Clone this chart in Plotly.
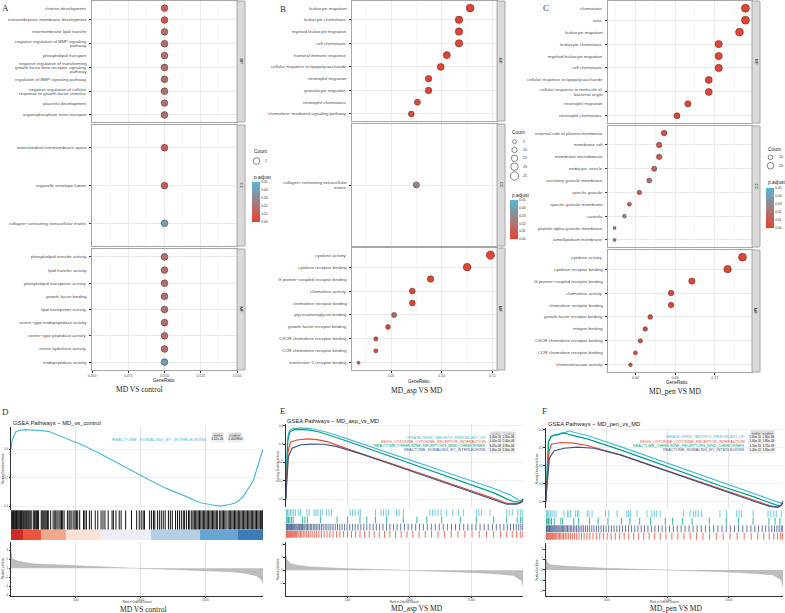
import plotly.graph_objects as go

W, H = 785, 613
SANS = "Liberation Sans, Arial, sans-serif"
SERIF = "Liberation Serif, Times New Roman, serif"

# ============================ DATA ============================
# ---- Panel A : MD VS control ----
A_BP_terms = ["chorion development", "extraembryonic membrane development", "intermembrane lipid transfer",
              "negative regulation of BMP signaling\npathway", "phospholipid transport",
              "negative regulation of transforming\ngrowth factor beta receptor signaling\npathway",
              "regulation of BMP signaling pathway",
              "negative regulation of cellular\nresponse to growth factor stimulus",
              "placenta development", "organophosphate ester transport"]
A_BP_ratio = [0.5, 0.5, 0.5, 0.5, 0.5, 0.5, 0.5, 0.5, 0.5, 0.5]
A_BP_count = [1, 1, 1, 1, 1, 1, 1, 1, 1, 1]
A_BP_padj = [0.011, 0.009, 0.019, 0.019, 0.019, 0.019, 0.019, 0.019, 0.019, 0.019]

A_CC_terms = ["mitochondrial intermembrane space", "organelle envelope lumen",
              "collagen\u2212containing extracellular matrix"]
A_CC_ratio = [0.5, 0.5, 0.5]
A_CC_count = [1, 1, 1]
A_CC_padj = [0.010, 0.010, 0.040]

A_MF_terms = ["phospholipid transfer activity", "lipid transfer activity", "phospholipid transporter activity",
              "growth factor binding", "lipid transporter activity", "serine\u2212type endopeptidase activity",
              "serine\u2212type peptidase activity", "serine hydrolase activity", "endopeptidase activity"]
A_MF_ratio = [0.5, 0.5, 0.5, 0.5, 0.5, 0.5, 0.5, 0.5, 0.5]
A_MF_count = [1, 1, 1, 1, 1, 1, 1, 1, 1]
A_MF_padj = [0.018, 0.018, 0.018, 0.018, 0.018, 0.018, 0.018, 0.018, 0.040]

# ---- Panel B : MD_asp VS MD ----
B_BP_terms = ["leukocyte migration", "leukocyte chemotaxis", "myeloid leukocyte migration", "cell chemotaxis",
              "humoral immune response", "cellular response to lipopolysaccharide", "neutrophil migration",
              "granulocyte migration", "neutrophil chemotaxis", "chemokine\u2212mediated signaling pathway"]
B_BP_ratio = [0.128, 0.117, 0.117, 0.117, 0.105, 0.099, 0.087, 0.087, 0.076, 0.070]
B_BP_count = [22, 20, 20, 20, 18, 17, 15, 15, 13, 12]
B_BP_padj = [0.0002, 0.0003, 0.0004, 0.0004, 0.001, 0.001, 0.001, 0.001, 0.002, 0.003]

B_CC_terms = ["collagen\u2212containing extracellular\nmatrix"]
B_CC_ratio = [0.075]
B_CC_count = [13]
B_CC_padj = [0.027]

B_MF_terms = ["cytokine activity", "cytokine receptor binding", "G protein\u2212coupled receptor binding",
              "chemokine activity", "chemokine receptor binding", "glycosaminoglycan binding",
              "growth factor receptor binding", "CXCR chemokine receptor binding",
              "CCR chemokine receptor binding", "interleukin\u22121 receptor binding"]
B_MF_ratio = [0.148, 0.125, 0.089, 0.071, 0.071, 0.053, 0.047, 0.035, 0.035, 0.018]
B_MF_count = [25, 21, 15, 12, 12, 9, 8, 6, 6, 3]
B_MF_padj = [0.0001, 0.0002, 0.001, 0.001, 0.001, 0.013, 0.003, 0.002, 0.002, 0.008]

# ---- Panel C : MD_pen VS MD ----
C_BP_terms = ["chemotaxis", "taxis", "leukocyte migration", "leukocyte chemotaxis", "myeloid leukocyte migration",
              "cell chemotaxis", "cellular response to lipopolysaccharide",
              "cellular response to molecule of\nbacterial origin", "neutrophil migration", "neutrophil chemotaxis"]
C_BP_ratio = [0.151, 0.151, 0.145, 0.124, 0.124, 0.124, 0.114, 0.114, 0.093, 0.082]
C_BP_count = [29, 29, 28, 24, 24, 24, 22, 22, 18, 16]
C_BP_padj = [0.0001, 0.0001, 0.0001, 0.0002, 0.0002, 0.0002, 0.0005, 0.0005, 0.001, 0.001]

C_CC_terms = ["external side of plasma membrane", "membrane raft", "membrane microdomain", "endocytic vesicle",
              "secretory granule membrane", "specific granule", "specific granule membrane", "caveola",
              "platelet alpha granule membrane", "lamellipodium membrane"]
C_CC_ratio = [0.069, 0.064, 0.064, 0.059, 0.054, 0.044, 0.034, 0.029, 0.019, 0.019]
C_CC_count = [14, 13, 13, 12, 11, 9, 7, 6, 4, 4]
C_CC_padj = [0.006, 0.008, 0.008, 0.014, 0.020, 0.007, 0.011, 0.024, 0.016, 0.022]

C_MF_terms = ["cytokine activity", "cytokine receptor binding", "G protein\u2212coupled receptor binding",
              "chemokine activity", "chemokine receptor binding", "growth factor receptor binding",
              "integrin binding", "CXCR chemokine receptor binding", "CCR chemokine receptor binding",
              "chemoattractant activity"]
C_MF_ratio = [0.148, 0.133, 0.097, 0.076, 0.076, 0.055, 0.050, 0.045, 0.040, 0.035]
C_MF_count = [28, 25, 18, 14, 14, 10, 9, 8, 7, 6]
C_MF_padj = [0.0001, 0.0002, 0.001, 0.001, 0.001, 0.002, 0.003, 0.002, 0.003, 0.004]

A_size_breaks = [1]
B_size_breaks = [5, 10, 15, 20, 25]
C_size_breaks = [10, 20]
padj_ticks = [0.00, 0.01, 0.02, 0.03, 0.04, 0.05]
padj_ticklabels = ["0.00", "0.01", "0.02", "0.03", "0.04", "0.05"]

A_xticks = [0.450, 0.475, 0.500, 0.525, 0.550]
A_xticklabels = ["0.450", "0.475", "0.500", "0.525", "0.550"]
B_xticks = [0.05, 0.10, 0.15]
B_xticklabels = ["0.05", "0.10", "0.15"]
C_xticks = [0.04, 0.08, 0.12]
C_xticklabels = ["0.04", "0.08", "0.12"]

# ---- GSEA D : MD_vs_control ----
D_set = "REACTOME_SIGNALING_BY_INTERLEUKINS"
D_pvalue = "4.62e-06"
D_padjust = "0.0009804"
D_N = 19450
D_rank = [0, 90, 350, 607, 1100, 1640, 2416, 2933, 4225, 5517, 6809, 8101, 9393, 10685, 11977, 13269,
          14561, 15336, 16111, 16886, 17402, 17919, 18436, 18700, 18953, 19211, 19450]
D_es = [0, 0.066, 0.120, 0.132, 0.138, 0.137, 0.132, 0.125, 0.078, 0.030, -0.028, -0.088, -0.153, -0.217,
        -0.276, -0.323, -0.375, -0.389, -0.401, -0.389, -0.375, -0.335, -0.264, -0.220, -0.146, -0.064, 0]
D_hits = [20, 70, 130, 190, 240, 300, 360, 420, 480, 540, 610, 680, 740, 800, 870, 950, 1020, 1100, 1180,
          1250, 1330, 1400, 1480, 1560, 1720, 1800, 1870, 1960, 2040, 2130, 2330, 2410, 2480, 2560, 2640,
          2720, 2810, 2880, 3060, 3250, 3380, 3460, 3560, 3700, 3800, 3900, 3990, 4100, 4350, 4480, 4560,
          4700, 4850, 4950, 5050, 5150, 5300, 5600, 5700, 5820, 6050, 6200, 6500, 6700, 6950, 7100, 7250,
          7500, 7800, 7900, 8100, 8350, 8500, 8850, 9300, 9700, 9900, 10050, 10200, 10300, 10700, 10850,
          11000, 11100, 11300, 11450, 11600, 11750, 11900, 12150, 12300, 12450, 12700, 12850, 13000, 13150,
          13300, 13400, 13550, 13700, 13800, 13950, 14050, 14150, 14250, 14350, 14450, 14550, 14650, 14750,
          14850, 14950, 15050, 15150, 15250, 15350, 15450, 15550, 15650, 15750, 15850, 15950, 16100, 16200,
          16300, 16400, 16500, 16600, 16750, 16850, 16950, 17050, 17150, 17250, 17350, 17450, 17550, 17650,
          17750, 17850, 17950, 18050, 18150, 18250, 18350, 18450, 18550, 18650, 18750, 18850, 18950, 19050,
          19150, 19250, 19350, 19420]
D_block_edges = [0, 917, 2287, 4225, 6938, 10814, 14561, 17532, 19450]
D_block_metric = [2.6, 1.7, 0.9, 0.3, -0.1, -0.5, -1.0, -1.6]
D_metric_rank = [0, 30, 90, 300, 607, 1640, 4225, 6809, 9393, 11977, 14561, 17145, 18178, 18953, 19340, 19450]
D_metric_val = [3.7, 2.9, 2.2, 1.8, 1.5, 0.96, 0.59, 0.30, 0.0, -0.22, -0.44, -0.81, -1.19, -1.7, -2.6, -3.4]

# ---- GSEA E : MD_asp_vs_MD ----
GSEA_sets = ["HINATA_NFKB_TARGETS_FIBROBLAST_UP", "KEGG_CYTOKINE_CYTOKINE_RECEPTOR_INTERACTION",
             "REACTOME_CHEMOKINE_RECEPTORS_BIND_CHEMOKINES", "REACTOME_SIGNALING_BY_INTERLEUKINS"]
E_pvalue = ["1.00e-10", "1.00e-10", "6.47e-08", "1.00e-10"]
E_padjust = ["2.00e-08", "2.00e-08", "4.95e-06", "2.00e-08"]
E_N = 19192
E_cyan_rank = [0, 81, 161, 240, 323, 450, 645, 900, 1183, 1450, 1720, 2258, 3333, 4677, 6021, 8709, 11397,
               14085, 16773, 18117, 18655, 18924, 19192]
E_cyan_es = [0, 0.205, 0.331, 0.360, 0.376, 0.380, 0.386, 0.383, 0.389, 0.385, 0.387, 0.382, 0.364, 0.335,
             0.304, 0.244, 0.183, 0.121, 0.060, 0.024, 0.002, -0.009, 0]
E_red_rank = [0, 81, 188, 376, 650, 914, 1720, 2527, 3333, 4677, 6021, 8709, 11397, 14085, 16773, 17849,
              18655, 19058, 19192]
E_red_es = [0, 0.150, 0.259, 0.310, 0.318, 0.322, 0.328, 0.324, 0.313, 0.281, 0.250, 0.190, 0.129, 0.067,
            0.005, -0.022, -0.024, -0.016, 0]
E_green_rank = [0, 81, 161, 323, 645, 1183, 1989, 2796, 3333, 4677, 6021, 8709, 11397, 14085, 16773, 17849,
                18386, 18924, 19192]
E_green_es = [0, 0.186, 0.313, 0.364, 0.378, 0.380, 0.376, 0.364, 0.353, 0.322, 0.291, 0.228, 0.165, 0.101,
              0.036, 0.002, -0.013, -0.016, 0]
E_blue_rank = [0, 81, 215, 511, 1183, 1989, 3064, 4140, 6021, 8709, 11397, 14085, 16773, 17849, 18655,
               19058, 19192]
E_blue_es = [0, 0.114, 0.232, 0.277, 0.295, 0.300, 0.299, 0.286, 0.248, 0.186, 0.123, 0.060, -0.004, -0.027,
             -0.027, -0.016, 0]
E_hits_cyan = [60, 150, 260, 380, 500, 640, 780, 1050, 1200, 1720, 1900, 2300, 2450, 2600, 2800, 2950, 3300,
               3500, 3700, 5200, 5400, 5600, 5900, 6050, 7250, 7700, 7900, 8100, 8300, 8950, 9150, 9500,
               11650, 11850, 12050, 12300, 12550, 13000, 13500, 13950, 14350, 15400, 15600, 15800, 16500,
               17850, 18050, 18300, 18750, 18950, 19100]
E_hits_green = [40, 120, 220, 330, 450, 600, 1350, 1550, 1750, 2800, 4150, 5000, 6000, 6550, 7250, 8150,
                9500, 10600, 11400, 12600, 14100, 15400, 16800, 17850, 18700, 18950, 19100]
E_hits_blue = [30, 85, 140, 200, 265, 330, 395, 470, 540, 610, 690, 760, 840, 930, 1010, 1100, 1180, 1270,
               1360, 1460, 1550, 1660, 1760, 1870, 1990, 2100, 2230, 2350, 2470, 2600, 2740, 2880, 3020,
               3180, 3330, 3490, 3650, 3820, 4000, 4180, 4370, 4560, 4760, 4960, 5170, 5390, 5610, 5840,
               6070, 6310, 6550, 6800, 7060, 7320, 7590, 7860, 8140, 8420, 8710, 9000, 9290, 9590, 9890,
               10190, 10500, 10810, 11120, 11440, 11760, 12080, 12400, 12730, 13060, 13390, 13720, 14050,
               14380, 14710, 15040, 15370, 15700, 16030, 16360, 16690, 17010, 17320, 17620, 17900, 18160,
               18400, 18620, 18820, 19000, 19150]
E_hits_red = [25, 75, 130, 190, 250, 320, 390, 460, 540, 620, 700, 790, 880, 980, 1080, 1190, 1300, 1420,
              1550, 1690, 1830, 1980, 2140, 2310, 2490, 2680, 2880, 3100, 3330, 3570, 3830, 4100, 4380,
              4680, 4990, 5310, 5650, 6000, 6370, 6750, 7150, 7560, 7980, 8420, 8870, 9330, 9800, 10280,
              10770, 11270, 11780, 12300, 12830, 13370, 13920, 14480, 15050, 15630, 16220, 16800, 17350,
              17850, 18300, 18650, 18950, 19150]
E_metric_rank = [0, 40, 108, 376, 1000, 1990, 4677, 8709, 11397, 14085, 16773, 18386, 19058, 19192]
E_metric_val = [2.4, 2.0, 1.6, 1.03, 0.75, 0.5, 0.26, 0.05, -0.10, -0.26, -0.53, -0.80, -1.6, -2.6]

# ---- GSEA F : MD_pen_vs_MD ----
F_pvalue = ["1.00e-10", "1.00e-10", "1.10e-10", "1.00e-10"]
F_padjust = ["1.80e-09", "1.80e-09", "1.72e-09", "1.80e-09"]
F_N = 19448
F_cyan_rank = [0, 136, 218, 408, 680, 950, 1224, 1600, 1904, 2312, 3400, 6120, 8840, 11560, 14280, 17000,
               18360, 18904, 19312, 19448]
F_cyan_es = [0, 0.223, 0.335, 0.363, 0.372, 0.368, 0.382, 0.386, 0.395, 0.387, 0.369, 0.307, 0.242, 0.177,
             0.112, 0.050, 0.015, 0.004, -0.009, 0]
F_red_rank = [0, 136, 272, 462, 800, 1224, 2312, 3400, 6120, 8840, 11560, 14280, 17000, 18360, 19040, 19312,
              19448]
F_red_es = [0, 0.168, 0.279, 0.320, 0.326, 0.330, 0.326, 0.313, 0.261, 0.199, 0.136, 0.071, 0.009, -0.022,
            -0.032, -0.019, 0]
F_green_rank = [0, 136, 245, 462, 952, 1632, 2040, 3400, 6120, 8840, 11560, 14280, 17000, 18360, 19040,
                19312, 19448]
F_green_es = [0, 0.205, 0.335, 0.363, 0.376, 0.382, 0.372, 0.350, 0.289, 0.223, 0.156, 0.089, 0.028,
              -0.004, -0.022, -0.019, 0]
F_blue_rank = [0, 136, 299, 680, 1496, 2584, 3944, 6120, 8840, 11560, 14280, 17000, 18360, 19040, 19312,
               19448]
F_blue_es = [0, 0.130, 0.242, 0.283, 0.298, 0.304, 0.298, 0.261, 0.196, 0.130, 0.065, 0.004, -0.026,
             -0.030, -0.019, 0]
F_hits_cyan = [60, 150, 260, 380, 520, 680, 850, 1500, 1780, 1900, 2040, 2450, 2600, 2720, 3400, 3550,
               3800, 4900, 5170, 5850, 6650, 6800, 6950, 7480, 8300, 8700, 8900, 9100, 9380, 11290, 11830,
               12100, 12300, 12500, 12780, 14280, 14820, 15650, 15850, 16050, 17000, 18220, 18450, 18700,
               18900, 19310]
F_hits_green = [50, 130, 230, 350, 480, 700, 1250, 1400, 2300, 2700, 3600, 4300, 5100, 6200, 6900, 7700,
                8600, 9800, 10400, 11200, 12000, 13400, 14800, 15800, 17000, 18300, 18800, 19200]
F_hits_blue = [20, 70, 125, 185, 250, 315, 380, 450, 525, 600, 675, 755, 835, 920, 1005, 1090, 1180, 1275,
               1370, 1470, 1570, 1680, 1790, 1905, 2020, 2140, 2270, 2400, 2530, 2670, 2810, 2960, 3110,
               3270, 3430, 3600, 3780, 3960, 4150, 4340, 4540, 4740, 4950, 5160, 5380, 5600, 5830, 6060,
               6300, 6540, 6790, 7040, 7300, 7560, 7830, 8100, 8380, 8660, 8950, 9240, 9540, 9840, 10150,
               10460, 10780, 11100, 11420, 11750, 12080, 12410, 12750, 13090, 13430, 13770, 14110, 14450,
               14790, 15130, 15470, 15810, 16150, 16490, 16820, 17140, 17450, 17750, 18030, 18290, 18530,
               18750, 18950, 19130, 19300, 19420]
F_hits_red = [30, 85, 140, 200, 265, 335, 410, 485, 565, 650, 735, 825, 920, 1020, 1125, 1235, 1350, 1470,
              1600, 1740, 1880, 2030, 2190, 2360, 2540, 2730, 2930, 3150, 3380, 3620, 3880, 4150, 4430,
              4730, 5040, 5360, 5700, 6060, 6430, 6810, 7210, 7620, 8040, 8480, 8930, 9390, 9860, 10340,
              10830, 11330, 11840, 12360, 12890, 13430, 13980, 14540, 15110, 15690, 16270, 16840, 17380,
              17880, 18320, 18700, 19000, 19250, 19400]
F_metric_rank = [0, 50, 136, 408, 1000, 2040, 4760, 8840, 11560, 14280, 17000, 18632, 19312, 19448]
F_metric_val = [2.2, 1.8, 1.4, 0.96, 0.8, 0.64, 0.32, 0.06, -0.13, -0.32, -0.64, -0.96, -1.9, -3.2]

# ============================ STYLE ============================
RED, BLUE_C = "#E8412F", "#4FB8D6"
PADJ_SCALE = [[0, RED], [0.5, "#A27E80"], [1, BLUE_C]]
NPG = {"cyan": "#4DBBD5", "red": "#E64B35", "green": "#00A087", "blue": "#3C5488"}
HEAT_SCALE = [[0, "#2A70B2"], [0.174, "#68A5D3"], [0.283, "#B3D0E6"], [0.37, "#ECEDF7"],
              [0.457, "#FBE1D6"], [0.587, "#F4A68A"], [0.739, "#EE5B3C"], [1, "#C92222"]]
LAB_FS = 4.4
LH = 4.3
BORDER = "#A6A6A6"

fig = go.Figure()
LAY = {}
ANN = []
SHP = []
NAX = [0]


def px(x):
    return x / W


def py(y):
    return 1 - y / H


def axes(x0, x1, y0, y1, xcfg, ycfg):
    NAX[0] += 1
    i = NAX[0]
    s = "" if i == 1 else str(i)
    LAY["xaxis" + s] = dict(domain=[px(x0), px(x1)], anchor="y" + s, zeroline=False, fixedrange=True, **xcfg)
    LAY["yaxis" + s] = dict(domain=[py(y1), py(y0)], anchor="x" + s, zeroline=False, fixedrange=True, **ycfg)
    return "x" + s, "y" + s


def text(x, y, s, size, color="#1A1A1A", family=SANS, xanchor="center", yanchor="middle", angle=0, **kw):
    ANN.append(dict(x=px(x), y=py(y), xref="paper", yref="paper", text=s, showarrow=False,
                    xanchor=xanchor, yanchor=yanchor, textangle=angle,
                    font=dict(size=size, color=color, family=family), **kw))


def size_scale(counts, cmin, cmax, dmin, dmax):
    if cmax == cmin:
        return [(dmin + dmax) / 2 for _ in counts]
    return [dmin + (dmax - dmin) * (c ** 0.5 - cmin ** 0.5) / (cmax ** 0.5 - cmin ** 0.5) for c in counts]


def dot_facet(x0, x1, y0, y1, strip_x1, label, terms, ratio, sizes, padj, caxis, xr, xt, xtl, xminor, show_x):
    xcfg = dict(range=xr, tickvals=xt, ticktext=xtl, showticklabels=show_x,
                ticks="outside" if show_x else "", ticklen=1.5, tickwidth=0.6, tickcolor="#333333",
                tickfont=dict(size=3.5, color="#4D4D4D", family=SANS),
                showgrid=True, gridcolor="#EBEBEB", gridwidth=0.6,
                minor=dict(tickvals=xminor, showgrid=True, gridcolor="#F5F5F5", gridwidth=0.4),
                showline=True, mirror=True, linecolor=BORDER, linewidth=1)
    ycfg = dict(type="category", categoryorder="array", categoryarray=terms[::-1],
                range=[-0.6, len(terms) - 0.4], showticklabels=False, ticks="outside", ticklen=2,
                tickwidth=0.6, tickcolor="#333333", showgrid=True, gridcolor="#EBEBEB", gridwidth=0.6,
                showline=True, mirror=True, linecolor=BORDER, linewidth=1)
    xn, yn = axes(x0, x1, y0, y1, xcfg, ycfg)
    fig.add_trace(go.Scatter(x=ratio, y=terms, mode="markers", xaxis=xn, yaxis=yn, hoverinfo="skip",
                             showlegend=False,
                             marker=dict(size=sizes, color=padj, coloraxis=caxis, opacity=1,
                                         line=dict(color="#333333", width=0.5))))
    for t in terms:
        lines = t.split("\n")
        n = len(lines)
        for i, ln in enumerate(lines):
            ANN.append(dict(x=0, xref=xn + " domain", y=t, yref=yn, xanchor="right", yanchor="middle",
                            xshift=-3.2, yshift=((n - 1) / 2 - i) * LH, text=ln, showarrow=False,
                            font=dict(size=LAB_FS, color="#4D4D4D", family=SANS)))
    SHP.append(dict(type="rect", xref="paper", yref="paper", x0=px(x1), x1=px(strip_x1), y0=py(y1), y1=py(y0),
                    fillcolor="#D9D9D9", line=dict(color=BORDER, width=1), layer="above"))
    text((x1 + strip_x1) / 2, (y0 + y1) / 2, label, 4.2, angle=90)


def dot_panel(x0, x1, strip_x1, boxes, facets, caxis, xr, xt, xtl, xminor, dmin, dmax):
    allc = [c for f in facets for c in f[2]]
    cmin, cmax = min(allc), max(allc)
    for k, ((y0, y1), (lab, terms, counts, ratio, padj)) in enumerate(zip(boxes, facets)):
        dot_facet(x0, x1, y0, y1, strip_x1, lab, terms, ratio, size_scale(counts, cmin, cmax, dmin, dmax),
                  padj, caxis, xr, xt, xtl, xminor, k == 2)
    return cmin, cmax


def size_legend(x, y_title, ys, breaks, cmin, cmax, dmin, dmax):
    text(x, y_title, "Count", 4.8, xanchor="left")
    ds = size_scale(breaks, cmin, cmax, dmin, dmax)
    cx = x + 4.5
    for b, d, yy in zip(breaks, ds, ys):
        SHP.append(dict(type="circle", xref="paper", yref="paper", xsizemode="pixel", ysizemode="pixel",
                        xanchor=px(cx), yanchor=py(yy), x0=-d / 2, x1=d / 2, y0=-d / 2, y1=d / 2,
                        line=dict(color="#333333", width=0.6), fillcolor="rgba(0,0,0,0)"))
        text(cx + 6, yy, str(b), 3.6, xanchor="left", color="#333333")


def colorbar(x, y_title, y0, y1):
    text(x, y_title, "p.adjust", 4.8, xanchor="left")
    return dict(cmin=0, cmax=0.05, colorscale=PADJ_SCALE,
                colorbar=dict(x=px(x), xanchor="left", y=py(y0), yanchor="top", len=y1 - y0, lenmode="pixels",
                              thickness=7.5, xpad=0, ypad=0, outlinewidth=0, ticks="",
                              tickvals=padj_ticks, ticktext=padj_ticklabels,
                              tickfont=dict(size=3.3, color="#333333", family=SANS)))


# ---------------- Dot plots ----------------
A_boxes = [(1, 122), (125, 246), (249, 370)]
A_fac = [("BP", A_BP_terms, A_BP_count, A_BP_ratio, A_BP_padj),
         ("CC", A_CC_terms, A_CC_count, A_CC_ratio, A_CC_padj),
         ("MF", A_MF_terms, A_MF_count, A_MF_ratio, A_MF_padj)]
acmin, acmax = dot_panel(92, 237, 245, A_boxes, A_fac, "coloraxis", [0.45, 0.55], A_xticks, A_xticklabels,
                         [0.4625, 0.4875, 0.5125, 0.5375], 6.7, 6.7)

B_boxes = [(1, 121), (124, 246), (248, 370)]
B_fac = [("BP", B_BP_terms, B_BP_count, B_BP_ratio, B_BP_padj),
         ("CC", B_CC_terms, B_CC_count, B_CC_ratio, B_CC_padj),
         ("MF", B_MF_terms, B_MF_count, B_MF_ratio, B_MF_padj)]
bcmin, bcmax = dot_panel(352, 497, 505, B_boxes, B_fac, "coloraxis2", [0.0115, 0.1545], B_xticks,
                         B_xticklabels, [0.025, 0.075, 0.125], 3.0, 8.3)

C_boxes = [(1, 123), (126, 247), (250, 372)]
C_fac = [("BP", C_BP_terms, C_BP_count, C_BP_ratio, C_BP_padj),
         ("CC", C_CC_terms, C_CC_count, C_CC_ratio, C_CC_padj),
         ("MF", C_MF_terms, C_MF_count, C_MF_ratio, C_MF_padj)]
ccmin, ccmax = dot_panel(608, 752, 760, C_boxes, C_fac, "coloraxis3", [0.0124, 0.1576], C_xticks,
                         C_xticklabels, [0.02, 0.06, 0.10, 0.14], 3.0, 8.0)

# legends
size_legend(252, 152, [161], A_size_breaks, acmin, acmax, 6.7, 6.7)
CA1 = colorbar(252, 178, 182, 222)
size_legend(510, 133, [141.7, 150, 158.3, 166.7, 176], B_size_breaks, bcmin, bcmax, 3.0, 8.3)
CA2 = colorbar(510, 195, 200, 239)
size_legend(766, 149, [157.3, 165.7], C_size_breaks, ccmin, ccmax, 3.0, 8.0)
CA3 = colorbar(766, 183, 187.5, 227)

for xc, gy in ((164, 380.8), (419, 381.2), (677, 382.6)):
    text(xc, gy, "GeneRatio", 4.5, color="#1A1A1A")
text(139, 389.8, "MD VS control", 7.5, family=SERIF, color="#222222")
text(417, 390.3, "MD_asp VS MD", 7.5, family=SERIF, color="#222222")
text(675, 391, "MD_pen VS MD", 7.5, family=SERIF, color="#222222")
text(5.5, 8, "A", 9, family=SERIF, color="#333333")
text(283, 9, "B", 9, family=SERIF, color="#333333")
text(546, 8, "C", 9, family=SERIF, color="#333333")


# ---------------- GSEA ----------------
def gsea_panel(x0, x1, top, bar, bot, N, top_range, top_ticks, top_labels, curves, hit_rows,
               m_rank, m_val, bot_range, bot_ticks, heat=None, bar_width=0.8):
    common_x = dict(range=[0, N], tickvals=[5000, 10000, 15000])
    # top: running enrichment score
    xn, yn = axes(x0, x1, top[0], top[1],
                  dict(common_x, showticklabels=False, ticks="", showgrid=True, gridcolor="#E3E3E3",
                       gridwidth=0.6, showline=False),
                  dict(range=top_range, tickvals=top_ticks, ticktext=top_labels, ticks="outside", ticklen=1.5,
                       tickwidth=0.5, tickcolor="#333333", tickfont=dict(size=2.8, color="#4D4D4D", family=SANS),
                       showgrid=True, gridcolor="#F0F0F0", gridwidth=0.5, showline=True, linecolor="#333333",
                       linewidth=0.6))
    for r, e, c in curves:
        fig.add_trace(go.Scatter(x=r, y=e, mode="lines", line=dict(color=c, width=1.2), xaxis=xn, yaxis=yn,
                                 hoverinfo="skip", showlegend=False))
    # barcode rows
    rowspan = 2 if heat is not None else 1
    yr = [0, len(hit_rows) * rowspan + (1 if heat is not None else 0)]
    xn2, yn2 = axes(x0, x1, bar[0], bar[1],
                    dict(common_x, showticklabels=False, ticks="", showgrid=False, showline=False),
                    dict(range=yr, showticklabels=False, ticks="", showgrid=False, showline=False))
    base = 1 if heat is not None else 0
    for k, (hits, c) in enumerate(hit_rows):
        lo = base + (len(hit_rows) - 1 - k) * rowspan
        xs, ys = [], []
        for h in hits:
            xs += [h, h, None]
            ys += [lo + 0.04, lo + rowspan - 0.04, None]
        fig.add_trace(go.Scatter(x=xs, y=ys, mode="lines", line=dict(color=c, width=bar_width), xaxis=xn2,
                                 yaxis=yn2, hoverinfo="skip", showlegend=False))
    if heat is not None:
        edges, vals = heat
        fig.add_trace(go.Heatmap(z=[vals], x=edges, y=[0, 1], colorscale=HEAT_SCALE, zmin=-1.8, zmax=2.8,
                                 showscale=False, xaxis=xn2, yaxis=yn2, hoverinfo="skip"))
    # bottom: ranked list metric
    xn3, yn3 = axes(x0, x1, bot[0], bot[1],
                    dict(common_x, ticktext=["5000", "10000", "15000"], showticklabels=True, ticks="outside",
                         ticklen=1.2, tickwidth=0.5, tickcolor="#333333",
                         tickfont=dict(size=2.6, color="#4D4D4D", family=SANS), showgrid=True,
                         gridcolor="#E3E3E3", gridwidth=0.6, showline=True, linecolor="#333333", linewidth=0.6),
                    dict(range=bot_range, tickvals=bot_ticks, ticks="outside", ticklen=1.5, tickwidth=0.5,
                         tickcolor="#333333", tickfont=dict(size=2.8, color="#4D4D4D", family=SANS),
                         showgrid=False, showline=True, linecolor="#333333", linewidth=0.6))
    fig.add_trace(go.Scatter(x=m_rank, y=m_val, mode="lines", fill="tozeroy", fillcolor="#BDBDBD",
                             line=dict(color="#A8A8A8", width=0.5), xaxis=xn3, yaxis=yn3, hoverinfo="skip",
                             showlegend=False))
    text((x0 + x1) / 2, 601.8, "Rank in Ordered Dataset", 2.6, color="#333333")
    text(x0 - 8.5, (top[0] + top[1]) / 2, "Running Enrichment Score", 2.6, angle=-90, color="#333333")
    text(x0 - 8.5, (bot[0] + bot[1]) / 2, "Ranked List Metric", 2.6, angle=-90, color="#333333")


def pval_table(x_text, x_p, x_pa, y_head, ys, names, colors, pv, pa, fs):
    text(x_p, y_head, "pvalue", 3.0, bgcolor="#D9D9D9", color="#1A1A1A", borderpad=0.6)
    text(x_pa, y_head, "p.adjust", 3.0, bgcolor="#D9D9D9", color="#1A1A1A", borderpad=0.6)
    for nm, c, p1, p2, yy in zip(names, colors, pv, pa, ys):
        text(x_text, yy, nm, fs, color=c, xanchor="right")
        text(x_p, yy, p1, 3.0, color="#1A1A1A", bgcolor="#EFEFEF", borderpad=0.4)
        text(x_pa, yy, p2, 3.0, color="#1A1A1A", bgcolor="#EFEFEF", borderpad=0.4)


# D
gsea_panel(11, 263, (427, 510), (510, 540), (541.7, 595.5), D_N, [-0.428, 0.157], [-0.4, -0.2, 0.0],
           ["\u22120.4", "\u22120.2", "0.0"], [(D_rank, D_es, NPG["cyan"])], [(D_hits, "#111111")],
           D_metric_rank, D_metric_val, [-6.1, 5.91], [-6, -4, -2, 0, 2, 4],
           heat=(D_block_edges, D_block_metric), bar_width=1.0)
text(11, 423, "GSEA Pathways \u2212 MD_vs_control", 5.8, xanchor="left")
pval_table(208, 217.5, 235, 435, [439.5], [D_set], [NPG["cyan"]], [D_pvalue], [D_padjust], 4.4)
text(5, 412, "D", 9, family=SERIF, color="#333333")
text(143, 609, "MD VS control", 7.5, family=SERIF, color="#222222")

# E
set_colors = [NPG["cyan"], NPG["red"], NPG["green"], NPG["blue"]]
gsea_panel(285.7, 523.3, (424, 507), (509, 538), (541.7, 595.5), E_N, [-0.042, 0.409],
           [0.0, 0.1, 0.2, 0.3, 0.4], ["0.0", "0.1", "0.2", "0.3", "0.4"],
           [(E_cyan_rank, E_cyan_es, NPG["cyan"]), (E_green_rank, E_green_es, NPG["green"]),
            (E_red_rank, E_red_es, NPG["red"]), (E_blue_rank, E_blue_es, NPG["blue"])],
           [(E_hits_cyan, NPG["cyan"]), (E_hits_green, NPG["green"]), (E_hits_blue, NPG["blue"]),
            (E_hits_red, NPG["red"])],
           E_metric_rank, E_metric_val, [-3.95, 4.46], [-2, 0, 2, 4])
text(285, 421, "GSEA Pathways \u2212 MD_asp_vs_MD", 5.8, xanchor="left")
pval_table(488, 495.7, 508.5, 434, [437.8, 441.9, 446.0, 450.2], GSEA_sets, set_colors, E_pvalue, E_padjust, 3.8)
text(283, 411, "E", 9, family=SERIF, color="#333333")
text(417, 608.5, "MD_asp VS MD", 7.5, family=SERIF, color="#222222")

# F
gsea_panel(545.7, 783, (428.3, 508), (510, 540), (543.3, 595.5), F_N, [-0.035, 0.409],
           [0.0, 0.1, 0.2, 0.3, 0.4], ["0.0", "0.1", "0.2", "0.3", "0.4"],
           [(F_cyan_rank, F_cyan_es, NPG["cyan"]), (F_green_rank, F_green_es, NPG["green"]),
            (F_red_rank, F_red_es, NPG["red"]), (F_blue_rank, F_blue_es, NPG["blue"])],
           [(F_hits_cyan, NPG["cyan"]), (F_hits_green, NPG["green"]), (F_hits_blue, NPG["blue"]),
            (F_hits_red, NPG["red"])],
           F_metric_rank, F_metric_val, [-4.9, 5.1], [-4, -2, 0, 2, 4])
text(545.7, 424, "GSEA Pathways \u2212 MD_pen_vs_MD", 5.8, xanchor="left")
pval_table(746.7, 755.7, 768, 433.7, [437.4, 441.7, 446.0, 450.1], GSEA_sets, set_colors, F_pvalue, F_padjust, 3.8)
text(544, 411, "F", 9, family=SERIF, color="#333333")
text(676, 608.5, "MD_pen VS MD", 7.5, family=SERIF, color="#222222")

fig.update_layout(width=W, height=H, margin=dict(l=0, r=0, t=0, b=0), template="none",
                  paper_bgcolor="white", plot_bgcolor="white", showlegend=False, hovermode=False,
                  font=dict(family=SANS), annotations=ANN, shapes=SHP,
                  coloraxis=CA1, coloraxis2=CA2, coloraxis3=CA3, **LAY)
fig.write_html("out.html")
